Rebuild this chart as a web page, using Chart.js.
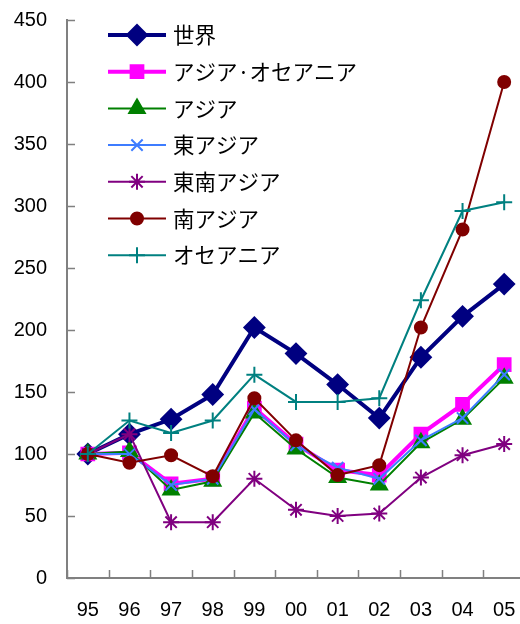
<!DOCTYPE html>
<html lang="ja">
<head>
<meta charset="utf-8">
<title>指数の推移</title>
<script src="https://cdn.jsdelivr.net/npm/chart.js@4.4.1/dist/chart.umd.min.js"></script>
<style>
  html, body { margin: 0; padding: 0; background: #fff; overflow: hidden; }
  #wrap { width: 520px; height: 624px; overflow: hidden; }
  #chart { display: block; margin-top: -12px; }
</style>
</head>
<body>
<div id="wrap"><canvas id="chart" width="537" height="636"></canvas></div>
<script>
// Years (1995 = 100)
const years = ['95', '96', '97', '98', '99', '00', '01', '02', '03', '04', '05'];

const world        = [100, 116, 128, 148, 202, 181, 156, 129, 178, 211, 237];
const asiaOceania  = [100, 101, 76, 80, 137, 108, 87, 83, 116, 140, 172];
const asia         = [100, 102, 71, 78, 133, 104, 81, 75, 109, 128, 161];
const eastAsia     = [100, 100, 75, 80, 136, 107, 89, 80, 111, 129, 164];
const southeastAsia = [100, 116, 45, 45, 80, 55, 50, 52, 81, 99, 108];
const southAsia    = [100, 93, 99, 82, 145, 111, 83, 91, 202, 281, 400];
const oceania      = [100, 127, 117, 127, 164, 142, 142, 145, 224, 296, 303];

const yTicks = [0, 50, 100, 150, 200, 250, 300, 350, 400, 450];

const series = [
    { label: '世界', data: world, color: '#000080', width: 4, style: 'rectRot', radius: 10 },
    { label: 'アジア·オセアニア', data: asiaOceania, color: '#ff00ff', width: 4, style: 'rect', radius: 9 },
    { label: 'アジア', data: asia, color: '#008000', width: 2, style: 'triangle', radius: 9 },
    { label: '東アジア', data: eastAsia, color: '#3d7cff', width: 2, style: 'crossRot', radius: 8 },
    { label: '東南アジア', data: southeastAsia, color: '#800080', width: 2, style: 'star', radius: 8 },
    { label: '南アジア', data: southAsia, color: '#800000', width: 2, style: 'circle', radius: 6 },
    { label: 'オセアニア', data: oceania, color: '#008080', width: 2, style: 'cross', radius: 8 },
];

const NUM_FONT = '"Liberation Sans", Arial, sans-serif';
const JP_FONT = '"Noto Sans CJK JP", "Noto Sans", sans-serif';

// Inward tick marks on both axes
const tickMarks = {
    id: 'tickMarks',
    afterDatasetsDraw(chart) {
        const { ctx, chartArea, scales } = chart;
        ctx.save();
        ctx.strokeStyle = '#808080';
        ctx.lineWidth = 1.5;
        ctx.beginPath();
        yTicks.forEach(v => {
            const y = Math.round(scales.y.getPixelForValue(v)) + 0.5;
            ctx.moveTo(chartArea.left, y);
            ctx.lineTo(chartArea.left + 8, y);
        });
        for (let i = 0; i <= years.length; i++) {
            const x = Math.round(chartArea.left + (chartArea.right - chartArea.left) * i / years.length) + 0.5;
            ctx.moveTo(x, chartArea.bottom);
            ctx.lineTo(x, chartArea.bottom - 8);
        }
        ctx.stroke();
        ctx.restore();
    }
};

// Legend drawn inside the plot area, top left
const innerLegend = {
    id: 'innerLegend',
    afterDraw(chart) {
        const { ctx } = chart;
        const x0 = 108, x1 = 166, xText = 173;
        let y = 47;
        ctx.save();
        chart.data.datasets.forEach(ds => {
            ctx.strokeStyle = ds.borderColor;
            ctx.lineWidth = ds.borderWidth;
            ctx.beginPath();
            ctx.moveTo(x0, y);
            ctx.lineTo(x1, y);
            ctx.stroke();
            ctx.fillStyle = ds.pointBackgroundColor;
            ctx.strokeStyle = ds.pointBorderColor;
            ctx.lineWidth = ds.pointBorderWidth;
            Chart.helpers.drawPoint(ctx, {
                pointStyle: ds.pointStyle,
                radius: ds.pointRadius,
                rotation: 0,
                borderWidth: ds.pointBorderWidth
            }, (x0 + x1) / 2, y);
            ctx.fillStyle = '#000';
            ctx.font = '21.5px ' + JP_FONT;
            ctx.textBaseline = 'middle';
            ctx.textAlign = 'left';
            ctx.fillText(ds.label, xText, y);
            y += 36.7;
        });
        ctx.restore();
    }
};

new Chart(document.getElementById('chart'), {
    type: 'line',
    data: {
        labels: years,
        datasets: series.map((s, i) => ({
            label: s.label,
            data: s.data,
            borderColor: s.color,
            backgroundColor: s.color,
            borderWidth: s.width,
            pointStyle: s.style,
            pointRadius: s.radius,
            pointBackgroundColor: s.color,
            pointBorderColor: s.color,
            pointBorderWidth: 2,
            tension: 0,
            order: series.length - i,
        })),
    },
    options: {
        responsive: false,
        animation: false,
        layout: { padding: 0 },
        plugins: {
            legend: { display: false },
            tooltip: { enabled: false },
        },
        scales: {
            x: {
                offset: true,
                grid: { display: false, drawTicks: false },
                border: { display: true, color: '#808080', width: 2 },
                ticks: {
                    color: '#000',
                    font: { family: NUM_FONT, size: 20 },
                    padding: 20,
                    maxRotation: 0,
                },
                afterFit(scale) { scale.height = 46; },
            },
            y: {
                min: 0,
                max: 450,
                afterBuildTicks(scale) { scale.ticks = yTicks.map(v => ({ value: v })); },
                grid: { display: false, drawTicks: false },
                border: { display: true, color: '#808080', width: 2 },
                ticks: {
                    color: '#000',
                    font: { family: NUM_FONT, size: 20 },
                    padding: 20,
                },
                afterFit(scale) { scale.width = 67; },
            },
        },
    },
    plugins: [tickMarks, innerLegend],
});
</script>
</body>
</html>
